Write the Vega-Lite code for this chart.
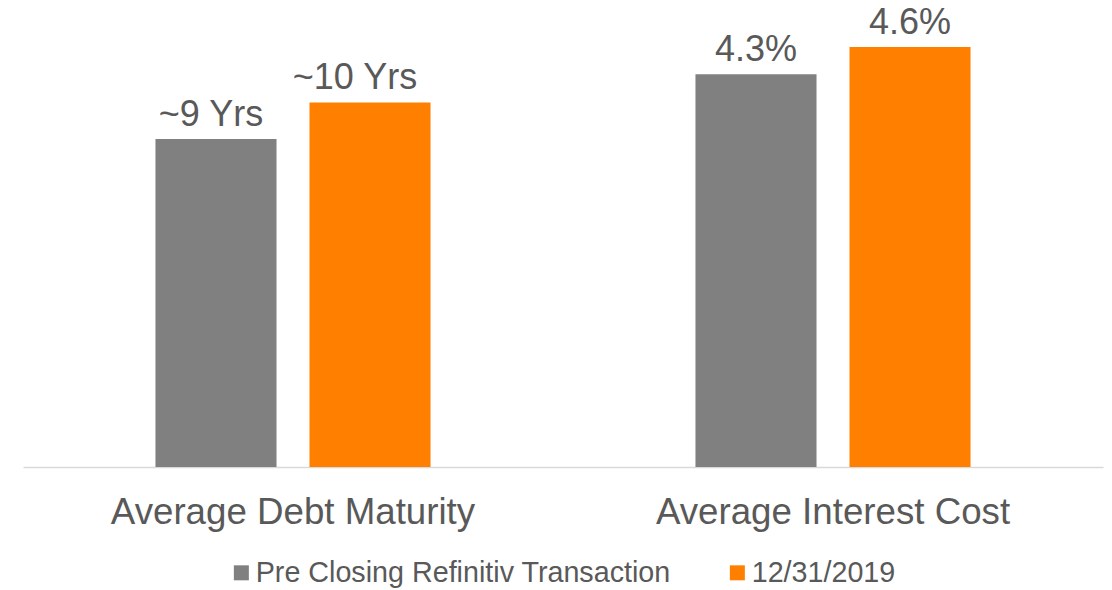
{
  "$schema": "https://vega.github.io/schema/vega-lite/v6.json",
  "width": 1080,
  "height": 467,
  "padding": {"left": 23, "top": 0, "right": 9, "bottom": 0},
  "background": "white",
  "config": {
    "view": {"stroke": null},
    "font": "Liberation Sans"
  },
  "data": {
    "values": [
      {"category": "Average Debt Maturity", "series": "Pre Closing Refinitiv Transaction", "value": 9, "label": "~9 Yrs\u00a0\u200b"},
      {"category": "Average Debt Maturity", "series": "12/31/2019", "value": 10, "label": "~10 Yrs\u00a0\u00a0\u00a0\u200b"},
      {"category": "Average Interest Cost", "series": "Pre Closing Refinitiv Transaction", "value": 4.3, "label": "4.3%"},
      {"category": "Average Interest Cost", "series": "12/31/2019", "value": 4.6, "label": "4.6%"}
    ]
  },
  "encoding": {
    "x": {
      "field": "category",
      "type": "nominal",
      "sort": ["Average Debt Maturity", "Average Interest Cost"],
      "scale": {"paddingInner": 0, "paddingOuter": 0},
      "axis": {
        "title": null,
        "labelAngle": 0,
        "ticks": false,
        "domainColor": "#d9d9d9",
        "domainWidth": 1.5,
        "labelFont": "Liberation Sans",
        "labelFontSize": 36.7,
        "labelColor": "#595959",
        "labelBaseline": "alphabetic",
        "labelPadding": 56,
        "labelLimit": 0
      }
    },
    "xOffset": {
      "field": "series",
      "type": "nominal",
      "sort": ["Pre Closing Refinitiv Transaction", "12/31/2019"],
      "scale": {"paddingInner": 0.214, "paddingOuter": 0.86}
    }
  },
  "layer": [
    {
      "transform": [{"filter": "datum.category === 'Average Debt Maturity'"}],
      "encoding": {
        "y": {"field": "value", "type": "quantitative", "scale": {"domain": [0, 12.81], "nice": false, "zero": true}, "axis": null}
      },
      "layer": [
        {
          "mark": {"type": "bar"},
          "encoding": {
            "color": {
              "field": "series",
              "type": "nominal",
              "scale": {"domain": ["Pre Closing Refinitiv Transaction", "12/31/2019"], "range": ["#808080", "#FF8000"]},
              "legend": {
                "title": null,
                "orient": "none",
                "direction": "horizontal",
                "legendX": 204,
                "legendY": 558,
                "symbolType": "square",
                "symbolSize": 225,
                "symbolStrokeWidth": 0,
                "labelFont": "Liberation Sans",
                "labelFontSize": 28.7,
                "labelColor": "#595959",
                "labelOffset": 0,
                "columnPadding": 52,
                "padding": 0,
                "labelLimit": 0
              }
            }
          }
        },
        {
          "mark": {"type": "text", "baseline": "alphabetic", "dy": -13, "fontSize": 36, "color": "#595959", "font": "Liberation Sans"},
          "encoding": {"text": {"field": "label"}}
        }
      ]
    },
    {
      "transform": [{"filter": "datum.category === 'Average Interest Cost'"}],
      "encoding": {
        "y": {"field": "value", "type": "quantitative", "scale": {"domain": [0, 5.114], "nice": false, "zero": true}, "axis": null}
      },
      "layer": [
        {
          "mark": {"type": "bar"},
          "encoding": {
            "color": {
              "field": "series",
              "type": "nominal",
              "scale": {"domain": ["Pre Closing Refinitiv Transaction", "12/31/2019"], "range": ["#808080", "#FF8000"]}
            }
          }
        },
        {
          "mark": {"type": "text", "baseline": "alphabetic", "dy": -13, "fontSize": 36, "color": "#595959", "font": "Liberation Sans"},
          "encoding": {"text": {"field": "label"}}
        }
      ]
    }
  ],
  "resolve": {"scale": {"y": "independent"}}
}
